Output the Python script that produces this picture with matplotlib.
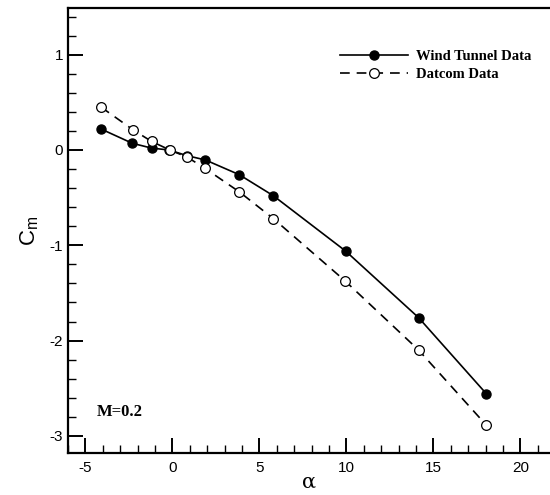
import matplotlib
matplotlib.use("Agg")
import matplotlib.pyplot as plt
from matplotlib.ticker import MultipleLocator

plt.rcParams['lines.scale_dashes'] = False
plt.rcParams['axes.unicode_minus'] = False

alpha_wt = [-4.1, -2.3, -1.2, -0.2, 0.85, 1.9, 3.85, 5.8, 9.95, 14.15, 18.05]
cm_wt = [0.22, 0.07, 0.02, 0.0, -0.06, -0.105, -0.26, -0.48, -1.06, -1.76, -2.56]

alpha_dc = [-4.1, -2.25, -1.2, -0.15, 0.85, 1.85, 3.85, 5.8, 9.9, 14.15, 18.05]
cm_dc = [0.45, 0.21, 0.09, 0.0, -0.075, -0.19, -0.44, -0.72, -1.37, -2.10, -2.89]

fig = plt.figure(figsize=(5.5, 4.95), dpi=100)
ax = fig.add_axes([68/550, 42/495, 1 - 68/550, (453-8)/495])

ax.plot(alpha_wt, cm_wt, color='black', lw=1.2, marker='o', ms=6.5,
        mfc='black', mec='black', label='Wind Tunnel Data')
ax.plot(alpha_dc, cm_dc, color='black', lw=1.2, dashes=(7, 5), marker='o', ms=7,
        mfc='white', mec='black', mew=0.9, label='Datcom Data')

ax.set_xlim(-6, 21.7)
ax.set_ylim(-3.18, 1.49)
ax.xaxis.set_major_locator(MultipleLocator(5))
ax.xaxis.set_minor_locator(MultipleLocator(1))
ax.yaxis.set_major_locator(MultipleLocator(1))
ax.yaxis.set_minor_locator(MultipleLocator(0.2))

for s in ['left', 'bottom', 'top']:
    ax.spines[s].set_linewidth(1.6)
ax.spines['right'].set_visible(False)

ax.tick_params(which='major', direction='in', length=11, width=1.4,
               labelsize=11, top=False, right=False)
ax.tick_params(axis='x', which='major', pad=6)
ax.tick_params(which='minor', direction='in', length=6, width=1.0,
               top=False, right=False)
for lab in ax.get_xticklabels() + ax.get_yticklabels():
    lab.set_fontfamily('Liberation Sans')

ax.set_xlabel('α', fontsize=15, family='DejaVu Serif', labelpad=-2)
ax.set_ylabel(r'$\mathregular{C_m}$', fontsize=16, family='Liberation Sans', labelpad=6)

leg = ax.legend(loc='upper left', bbox_to_anchor=(0.538, 0.935), frameon=False,
                handlelength=4.6, handletextpad=0.6, labelspacing=0.3,
                prop={'family': 'Liberation Serif', 'weight': 'bold', 'size': 10.5})

ax.text(0.06, 0.092, 'M=0.2', transform=ax.transAxes, family='Liberation Serif',
        weight='bold', fontsize=12, va='center')

fig.savefig('out.png', dpi=100)
